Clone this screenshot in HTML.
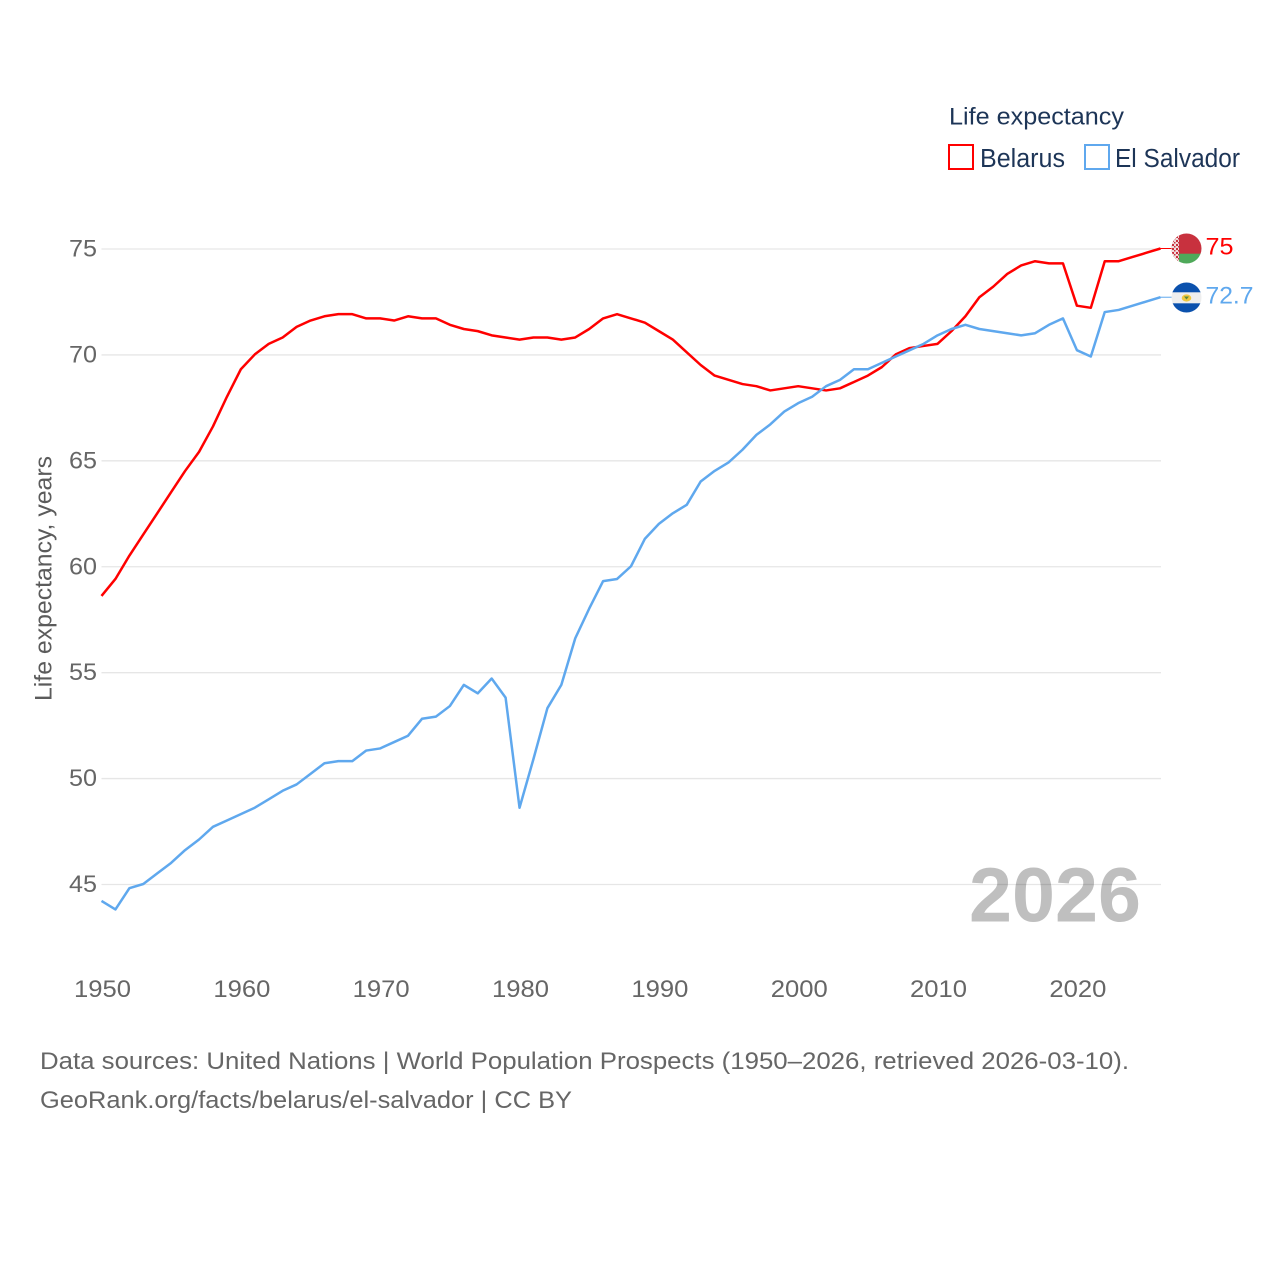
<!DOCTYPE html>
<html lang="en">
<head>
<meta charset="utf-8">
<title>Life expectancy: Belarus and El Salvador</title>
<style>
html,body{margin:0;padding:0;background:#fff;}
svg{display:block;font-family:"Liberation Sans",sans-serif;}
</style>
</head>
<body>
<svg id="chart" xmlns="http://www.w3.org/2000/svg" width="1280" height="1280" viewBox="0 0 1280 1280">
  <rect width="1280" height="1280" fill="#fff"/>
  <text x="969" y="921.500" font-size="77" font-weight="bold" fill="#bfbfbf" textLength="172" lengthAdjust="spacingAndGlyphs">2026</text>
  <g id="grid" style="mix-blend-mode:multiply"></g>
  <g id="yticks"></g>
  <g id="xticks"></g>
  <text transform="translate(51.500,578.500) rotate(-90)" text-anchor="middle" font-size="24" fill="#5b5b5b" textLength="245" lengthAdjust="spacingAndGlyphs">Life expectancy, years</text>
  <g id="series"></g>

  <g>
    <text x="949" y="124.500" font-size="24.500" fill="#1d3557" textLength="175" lengthAdjust="spacingAndGlyphs">Life expectancy</text>
    <g>
      <rect x="949" y="145" width="24" height="24" fill="#fff" stroke="#ff0000" stroke-width="2"/>
      <text x="980" y="167" font-size="25.500" fill="#1d3557" textLength="85" lengthAdjust="spacingAndGlyphs">Belarus</text>
    </g>
    <g>
      <rect x="1085" y="145" width="24" height="24" fill="#fff" stroke="#5fa8ee" stroke-width="2"/>
      <text x="1115" y="167" font-size="25.500" fill="#1d3557" textLength="125" lengthAdjust="spacingAndGlyphs">El Salvador</text>
    </g>
  </g>

  <defs>
    <clipPath id="clip-by"><circle cx="1186.500" cy="248.500" r="15"/></clipPath>
    <clipPath id="clip-sv"><circle cx="1186.500" cy="297.500" r="15"/></clipPath>
    <pattern id="by-ornament" width="4" height="4" patternUnits="userSpaceOnUse">
      <rect width="4" height="4" fill="#f0dcdc"/>
      <rect x="0" y="0" width="2" height="2" fill="#c8313e"/>
      <rect x="2" y="2" width="1.500" height="1.500" fill="#c8313e"/>
    </pattern>
  </defs>

  <g clip-path="url(#clip-by)">
    <rect x="1171" y="233" width="31" height="21" fill="#c8313e"/>
    <rect x="1171" y="253.700" width="31" height="11" fill="#4fa95a"/>
    <rect x="1171" y="233" width="8" height="31" fill="url(#by-ornament)"/>
  </g>
  <g clip-path="url(#clip-sv)">
    <rect x="1171" y="282" width="31" height="10.500" fill="#0b51ad"/>
    <rect x="1171" y="292.300" width="31" height="11" fill="#eeeeee"/>
    <rect x="1171" y="303.300" width="31" height="10" fill="#0b51ad"/>
    <ellipse cx="1186.500" cy="298" rx="4.800" ry="3.600" fill="#f0c840"/>
    <path d="M1184 296.500 L1189 296.500 L1186.500 299.500 Z" fill="#5a8a3a"/>
  </g>
  <text x="1205.500" y="254.500" font-size="24.500" fill="#ff0000" textLength="28" lengthAdjust="spacingAndGlyphs">75</text>
  <text x="1205.500" y="303.500" font-size="24.500" fill="#5fa8ee" textLength="48" lengthAdjust="spacingAndGlyphs">72.7</text>

  <g>
    <text x="40" y="1069" font-size="24.500" fill="#666" textLength="1089" lengthAdjust="spacingAndGlyphs">Data sources: United Nations | World Population Prospects (1950–2026, retrieved 2026-03-10).</text>
    <text x="40" y="1108" font-size="24.500" fill="#666" textLength="532" lengthAdjust="spacingAndGlyphs">GeoRank.org/facts/belarus/el-salvador | CC BY</text>
  </g>
</svg>
<script>
const startYear = 1950;
const xTickLabels = [1950, 1960, 1970, 1980, 1990, 2000, 2010, 2020];
const yTickLabels = [45, 50, 55, 60, 65, 70, 75];
const belarusValues = [
  58.6, 59.4, 60.5, 61.5, 62.5, 63.5, 64.5, 65.4, 66.6, 68.0,
  69.3, 70.0, 70.5, 70.8, 71.3, 71.6, 71.8, 71.9, 71.9, 71.7,
  71.7, 71.6, 71.8, 71.7, 71.7, 71.4, 71.2, 71.1, 70.9, 70.8,
  70.7, 70.8, 70.8, 70.7, 70.8, 71.2, 71.7, 71.9, 71.7, 71.5,
  71.1, 70.7, 70.1, 69.5, 69.0, 68.8, 68.6, 68.5, 68.3, 68.4,
  68.5, 68.4, 68.3, 68.4, 68.7, 69.0, 69.4, 70.0, 70.3, 70.4,
  70.5, 71.1, 71.8, 72.7, 73.2, 73.8, 74.2, 74.4, 74.3, 74.3,
  72.3, 72.2, 74.4, 74.4, 74.6, 74.8, 75.0
];
const elSalvadorValues = [
  44.2, 43.8, 44.8, 45.0, 45.5, 46.0, 46.6, 47.1, 47.7, 48.0,
  48.3, 48.6, 49.0, 49.4, 49.7, 50.2, 50.7, 50.8, 50.8, 51.3,
  51.4, 51.7, 52.0, 52.8, 52.9, 53.4, 54.4, 54.0, 54.7, 53.8,
  48.6, 50.9, 53.3, 54.4, 56.6, 58.0, 59.3, 59.4, 60.0, 61.3,
  62.0, 62.5, 62.9, 64.0, 64.5, 64.9, 65.5, 66.2, 66.7, 67.3,
  67.7, 68.0, 68.5, 68.8, 69.3, 69.3, 69.6, 69.9, 70.2, 70.5,
  70.9, 71.2, 71.4, 71.2, 71.1, 71.0, 70.9, 71.0, 71.4, 71.7,
  70.2, 69.9, 72.0, 72.1, 72.3, 72.5, 72.7
];

const NS = 'http://www.w3.org/2000/svg';
function xScale(year) { return 101.5 + (year - 1950) * (1160.5 - 101.5) / 76; }
function yScale(v) { return 884.5 - (v - 45) * (884.5 - 249) / 30; }

const gridGroup = document.getElementById('grid');
const yGroup = document.getElementById('yticks');
const xGroup = document.getElementById('xticks');
const seriesGroup = document.getElementById('series');

yTickLabels.forEach(function (t) {
  const line = document.createElementNS(NS, 'line');
  
  
  line.setAttribute('x1', xScale(1950));
  line.setAttribute('x2', xScale(2026) + 0.5);
  line.setAttribute('y1', yScale(t));
  line.setAttribute('y2', yScale(t));
  line.setAttribute('stroke', '#e6e6e6');
  line.setAttribute('stroke-width', '1.3');
  gridGroup.appendChild(line);

  const label = document.createElementNS(NS, 'text');
  
  
  label.setAttribute('x', 97);
  label.setAttribute('y', yScale(t) + 7.5);
  label.setAttribute('text-anchor', 'end');
  label.setAttribute('font-size', '24.5');
  label.setAttribute('fill', '#666');
  label.setAttribute('textLength', '28');
  label.setAttribute('lengthAdjust', 'spacingAndGlyphs');
  label.textContent = t;
  yGroup.appendChild(label);
});

xTickLabels.forEach(function (t) {
  const label = document.createElementNS(NS, 'text');
  
  
  label.setAttribute('x', xScale(t) + 1);
  label.setAttribute('y', 997);
  label.setAttribute('text-anchor', 'middle');
  label.setAttribute('font-size', '24.5');
  label.setAttribute('fill', '#666');
  label.setAttribute('textLength', '57');
  label.setAttribute('lengthAdjust', 'spacingAndGlyphs');
  label.textContent = t;
  xGroup.appendChild(label);
});

function drawSeries(values, color, name) {
  const pts = values.map(function (v, i) {
    return xScale(startYear + i).toFixed(2) + ',' + (yScale(v) - 0.5).toFixed(2);
  }).join(' ');
  const line = document.createElementNS(NS, 'polyline');
  
  
  line.setAttribute('points', pts);
  line.setAttribute('fill', 'none');
  line.setAttribute('stroke', color);
  line.setAttribute('stroke-width', '2.5');
  line.setAttribute('stroke-linejoin', 'round');
  seriesGroup.appendChild(line);

  const lastY = yScale(values[values.length - 1]) - 0.5;
  const connector = document.createElementNS(NS, 'line');
  
  
  connector.setAttribute('x1', xScale(startYear + values.length - 1));
  connector.setAttribute('x2', 1172);
  connector.setAttribute('y1', lastY);
  connector.setAttribute('y2', lastY);
  connector.setAttribute('stroke', color);
  connector.setAttribute('stroke-width', '1');
  seriesGroup.appendChild(connector);
}
drawSeries(belarusValues, '#ff0000', 'belarus');
drawSeries(elSalvadorValues, '#5fa8ee', 'el-salvador');
</script>
</body>
</html>
